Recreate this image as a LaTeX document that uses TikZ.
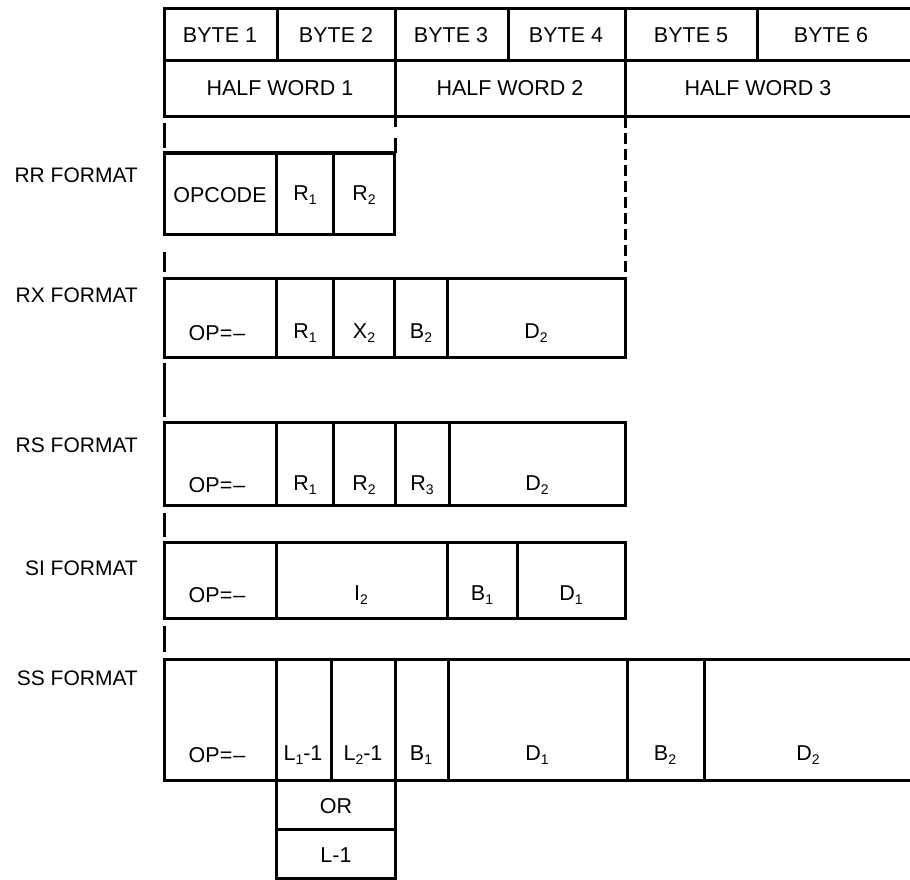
\documentclass[tikz,border=0pt]{standalone}
\usepackage{fontspec}
\setmainfont{Liberation Sans}
\newcommand{\lowidx}[1]{\raisebox{-0.35ex}{\fontsize{14}{14}\selectfont #1}}
\tikzset{
  frame/.style={line width=3pt, line cap=rect},
  guide/.style={line width=3pt},
  dashguide/.style={line width=3pt, dash pattern=on 11pt off 5pt},
  txt/.style={font=\fontsize{21.5}{25}\selectfont, inner sep=0pt},
  fmt/.style={font=\fontsize{21}{25}\selectfont, inner sep=0pt, anchor=east},
}
\begin{document}
\begin{tikzpicture}[x=1pt,y=-1pt]
\useasboundingbox (0,0) rectangle (910,880);

% ---- header rows ----
\draw[frame] (910,9) -- (164,9) -- (164,117) -- (910,117);
\draw[frame] (164,61) -- (910,61);
\foreach \x in {277,508,757} \draw[frame] (\x,9) -- (\x,61);
\foreach \x in {395,625} \draw[frame] (\x,9) -- (\x,117);
\node[txt] (b1) at (220,35) {BYTE 1};
\node[txt] (b2) at (336,35) {BYTE 2};
\node[txt] (b3) at (451,35) {BYTE 3};
\node[txt] (b4) at (566,35) {BYTE 4};
\node[txt] (b5) at (691,35) {BYTE 5};
\node[txt] (b6) at (831,35) {BYTE 6};
\node[txt] (h1) at (280,88) {HALF WORD 1};
\node[txt] (h2) at (510,88) {HALF WORD 2};
\node[txt] (h3) at (758,88) {HALF WORD 3};

% ---- guide lines ----
\draw[guide] (164,123) -- (164,148);
\draw[guide] (395,117) -- (395,127);
\draw[guide] (395,138) -- (395,153);
\draw[dashguide] (625,117) -- (625,278);
\draw[guide] (164,252) -- (164,272);
\draw[guide] (164,363) -- (164,417);
\draw[guide] (164,513) -- (164,537);
\draw[guide] (164,626) -- (164,652);

% ---- RR ----
\node[fmt] (rrl) at (138,175) {RR FORMAT};
\draw[frame] (164,153) rectangle (394,234);
\foreach \x in {276,333} \draw[frame] (\x,153) -- (\x,234);
\node[txt] (rr1) at (220,195) {OPCODE};
\node[txt] (rr2) at (305,195) {R\lowidx{1}};
\node[txt] (rr3) at (364,195) {R\lowidx{2}};

% ---- RX ----
\node[fmt] (rxl) at (138,295) {RX FORMAT};
\draw[frame] (164,278) rectangle (625,357);
\foreach \x in {276,333,394,447} \draw[frame] (\x,278) -- (\x,357);
\node[txt] (rx1) at (217,333) {OP=\kern1pt--};
\node[txt] (rx2) at (305,333) {R\lowidx{1}};
\node[txt] (rx3) at (364,333) {X\lowidx{2}};
\node[txt] (rx4) at (421,333) {B\lowidx{2}};
\node[txt] (rx5) at (536,333) {D\lowidx{2}};

% ---- RS ----
\node[fmt] (rsl) at (138,445) {RS FORMAT};
\draw[frame] (164,422) rectangle (625,505);
\foreach \x in {276,333,395,449} \draw[frame] (\x,422) -- (\x,505);
\node[txt] (rs1) at (217,485) {OP=\kern1pt--};
\node[txt] (rs2) at (305,485) {R\lowidx{1}};
\node[txt] (rs3) at (364,485) {R\lowidx{2}};
\node[txt] (rs4) at (422,485) {R\lowidx{3}};
\node[txt] (rs5) at (537,485) {D\lowidx{2}};

% ---- SI ----
\node[fmt] (sil) at (138,568) {SI FORMAT};
\draw[frame] (164,542) rectangle (625,618);
\foreach \x in {276,447,517} \draw[frame] (\x,542) -- (\x,618);
\node[txt] (si1) at (217,595) {OP=\kern1pt--};
\node[txt] (si2) at (361,595) {I\lowidx{2}};
\node[txt] (si3) at (482,595) {B\lowidx{1}};
\node[txt] (si4) at (571,595) {D\lowidx{1}};

% ---- SS ----
\node[fmt] (ssl) at (138,678) {SS FORMAT};
\draw[frame] (910,659) -- (164,659) -- (164,780) -- (910,780);
\foreach \x in {276,331,395,448,627,704} \draw[frame] (\x,659) -- (\x,780);
\node[txt] (ss1) at (217,755) {OP=\kern1pt--};
\node[txt] (ss2) at (303,755) {L\lowidx{1}-1};
\node[txt] (ss3) at (363,755) {L\lowidx{2}-1};
\node[txt] (ss4) at (421,755) {B\lowidx{1}};
\node[txt] (ss5) at (537,755) {D\lowidx{1}};
\node[txt] (ss6) at (665,755) {B\lowidx{2}};
\node[txt] (ss7) at (808,755) {D\lowidx{2}};

% ---- OR / L-1 ----
\draw[frame] (276,780) rectangle (395,829);
\draw[frame] (276,829) rectangle (395,878);
\node[txt] (or) at (336,806) {OR};
\node[txt] (lm) at (336,855) {L-1};
\end{tikzpicture}
\end{document}
